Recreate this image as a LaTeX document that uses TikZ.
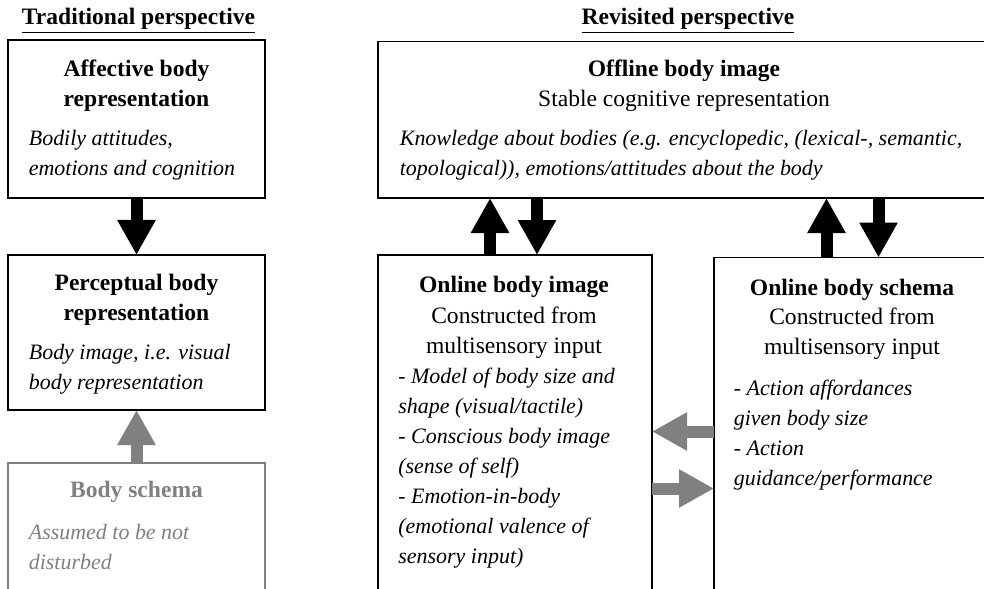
\documentclass[tikz,border=0pt]{standalone}
\usepackage{fontspec}
\setmainfont{Liberation Serif}
\usepackage{tikz}
\usetikzlibrary{arrows.meta}

\newcommand{\bodyfont}{\fontsize{13.4pt}{17.07pt}\selectfont}
\newcommand{\notefont}{\fontsize{12.5pt}{17.07pt}\selectfont}
\colorlet{softgray}{black!50}

\tikzset{
  box/.style={draw, line width=0.9pt, inner sep=0pt, outer sep=0pt},
  headtext/.style={font=\bodyfont\bfseries, align=center, inner sep=0pt},
  subtext/.style={font=\bodyfont, align=center, inner sep=0pt},
  notetext/.style={font=\notefont\itshape, align=left, anchor=west, inner sep=0pt},
  bigarrow/.style={-{Triangle[width=0.72cm, length=0.70cm]}, line width=0.24cm},
}

\begin{document}
\begin{tikzpicture}
\useasboundingbox (0, 0) rectangle (19.68, -11.78);
\clip (0, 0) rectangle (19.68, -11.78);

\node[font=\bodyfont\bfseries] (traditional) at (2.77, -0.41) {\underline{Traditional perspective}};
\node[font=\bodyfont\bfseries] (revisited) at (13.76, -0.41) {\underline{Revisited perspective}};

% traditional column
\node[box, minimum width=5.14cm, minimum height=3.16cm] (affective) at (2.73, -2.38) {};
\node[box, minimum width=5.14cm, minimum height=3.10cm] (perceptual) at (2.73, -6.65) {};
\node[box, draw=softgray, minimum width=5.14cm, minimum height=3.24cm] (bodyschema) at (2.73, -10.88) {};

\node[headtext] (affectivehead) at (2.73, -1.72) {Affective body\\representation};
\node[notetext] (affectivenote) at (0.57, -3.10) {Bodily attitudes,\\emotions and cognition};
\node[headtext] (perceptualhead) at (2.73, -5.99) {Perceptual body\\representation};
\node[notetext] (perceptualnote) at (0.57, -7.38) {Body image, i.e. visual\\body representation};
\node[headtext, text=softgray] (schemahead) at (2.73, -9.84) {Body schema};
\node[notetext, text=softgray] (schemanote) at (0.57, -10.94) {Assumed to be not\\disturbed};

\draw[bigarrow] (affective.south) -- (perceptual.north);
\draw[bigarrow, softgray] (bodyschema.north) -- (perceptual.south);

% revisited column
\node[box, minimum width=12.32cm, minimum height=3.13cm] (offline) at (13.72, -2.395) {};
\node[box, minimum width=5.48cm, minimum height=7.40cm] (onlineimage) at (10.30, -8.80) {};
\node[box, minimum width=5.52cm, minimum height=7.35cm] (onlineschema) at (17.04, -8.825) {};

\node[headtext] (offlinehead) at (13.68, -1.42) {Offline body image};
\node[subtext] (offlinesub) at (13.68, -2.02) {Stable cognitive representation};
\node[notetext] (offlinenote) at (7.99, -3.11) {Knowledge about bodies (e.g. encyclopedic, (lexical-, semantic,\\topological)), emotions/attitudes about the body};

\node[headtext] (imagehead) at (10.28, -5.74) {Online body image};
\node[subtext] (imagesub) at (10.28, -6.66) {Constructed from\\multisensory input};
\node[notetext] (imagenote) at (7.96, -9.37) {- Model of body size and\\shape (visual/tactile)\\- Conscious body image\\(sense of self)\\- Emotion-in-body\\(emotional valence of\\sensory input)};

\node[headtext] (schemahead2) at (17.04, -5.79) {Online body schema};
\node[subtext] (schemasub) at (17.04, -6.67) {Constructed from\\multisensory input};
\node[notetext] (schemanote2) at (14.67, -8.71) {- Action affordances\\given body size\\- Action\\guidance/performance};

\draw[bigarrow] ([xshift=-0.50cm]onlineimage.north) -- ([xshift=-0.50cm]onlineimage.north |- offline.south);
\draw[bigarrow] ([xshift=0.44cm]onlineimage.north |- offline.south) -- ([xshift=0.44cm]onlineimage.north);
\draw[bigarrow] ([xshift=-0.51cm]onlineschema.north) -- ([xshift=-0.51cm]onlineschema.north |- offline.south);
\draw[bigarrow] ([xshift=0.53cm]onlineschema.north |- offline.south) -- ([xshift=0.53cm]onlineschema.north);

\draw[bigarrow, softgray] ([yshift=-3.48cm]onlineschema.north west) -- ([yshift=-3.48cm]onlineschema.north west -| onlineimage.east);
\draw[bigarrow, softgray] ([yshift=-4.62cm]onlineschema.north west -| onlineimage.east) -- ([yshift=-4.62cm]onlineschema.north west);
\end{tikzpicture}
\end{document}
